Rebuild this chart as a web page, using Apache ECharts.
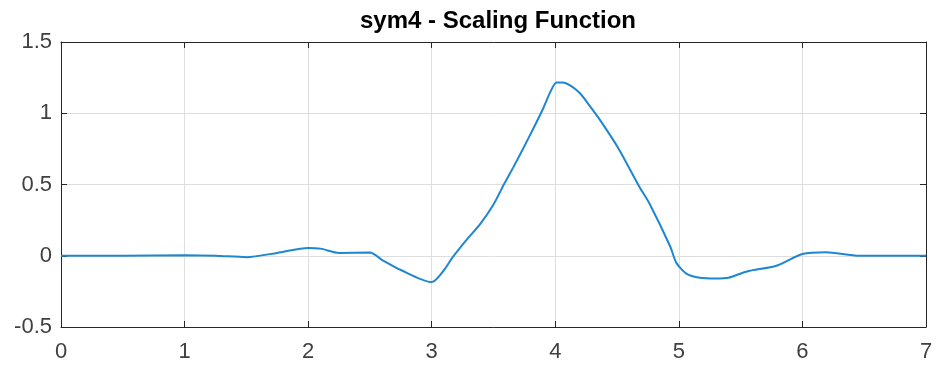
<!DOCTYPE html>
<html>
<head>
<meta charset="utf-8">
<script src="https://cdn.jsdelivr.net/npm/echarts@6/dist/echarts.min.js"></script>
<style>
  html, body { margin: 0; padding: 0; background: #fff; }
  #chart { width: 936px; height: 365px; }
</style>
</head>
<body>
<div id="chart"></div>
<script>
// sym4 scaling function phi(x), sampled on its support [0, 7]
const xs = [0, 0.5, 1.0, 1.25, 1.5, 1.75, 2.0, 2.1, 2.25, 2.5, 2.6, 2.75, 3.0, 3.1, 3.17, 3.28, 3.39, 3.5, 3.59, 3.66, 3.78, 3.9, 3.96, 4.01, 4.06, 4.12, 4.2, 4.28, 4.36, 4.51, 4.68, 4.76, 4.93, 4.98, 5.06, 5.17, 5.3, 5.4, 5.55, 5.79, 6.0, 6.19, 6.46, 6.75, 7.0];
const phi = [0, 0, 0.003, 0, -0.01, 0.02, 0.055, 0.05, 0.02, 0.022, -0.03, -0.1, -0.185, -0.1, -0.01, 0.11, 0.22, 0.36, 0.51, 0.62, 0.82, 1.03, 1.15, 1.215, 1.215, 1.195, 1.14, 1.05, 0.955, 0.755, 0.485, 0.37, 0.065, -0.05, -0.125, -0.155, -0.16, -0.155, -0.11, -0.07, 0.012, 0.025, 0, 0, 0];

const xTicks = [0, 1, 2, 3, 4, 5, 6, 7];
const yTicks = ['-0.5', '0', '0.5', '1', '1.5'];

const titleText = 'sym4 - Scaling Function';

const axisColor = '#262626';
const gridColor = '#dedede';
const fontFamily = 'Liberation Sans, Arial, Helvetica, sans-serif';

const chart = echarts.init(document.getElementById('chart'), null, { renderer: 'canvas' });

const points = xs.map((x, i) => [x, phi[i]]);

// one boxed axis side: dark line, inward ticks, optional labels
function side(kind, position, withLabels) {
  const isX = kind === 'x';
  const ax = {
    type: 'value',
    position,
    min: isX ? xTicks[0] : Number(yTicks[0]),
    max: isX ? xTicks[xTicks.length - 1] : Number(yTicks[yTicks.length - 1]),
    interval: isX ? 1 : 0.5,
    axisLine: { show: true, onZero: false, lineStyle: { color: axisColor, width: 1 } },
    axisTick: { show: true, inside: true, length: 6, lineStyle: { color: axisColor, width: 1 } },
    axisLabel: { show: withLabels, fontFamily, fontSize: 22, color: '#404040', margin: isX ? 14 : 9 },
    splitLine: { show: withLabels, lineStyle: { color: gridColor, width: 1 } }
  };
  if (!isX) {
    ax.axisLabel.formatter = v => yTicks.find(t => Math.abs(Number(t) - v) < 1e-9) ?? '';
  }
  return ax;
}

chart.setOption({
  animation: false,
  backgroundColor: '#ffffff',
  title: {
    text: titleText,
    left: 493,
    textAlign: 'center',
    top: 4,
    textStyle: { fontFamily, fontWeight: 'bold', fontSize: 24, color: '#000' }
  },
  grid: { left: 61, right: 10, top: 42, bottom: 38, show: false },
  xAxis: [side('x', 'bottom', true), side('x', 'top', false)],
  yAxis: [side('y', 'left', true), side('y', 'right', false)],
  series: [{
    type: 'line',
    data: points,
    xAxisIndex: 0,
    yAxisIndex: 0,
    smooth: 0.25,
    showSymbol: false,
    lineStyle: { color: '#1f86d0', width: 2 }
  }]
});
</script>
</body>
</html>
